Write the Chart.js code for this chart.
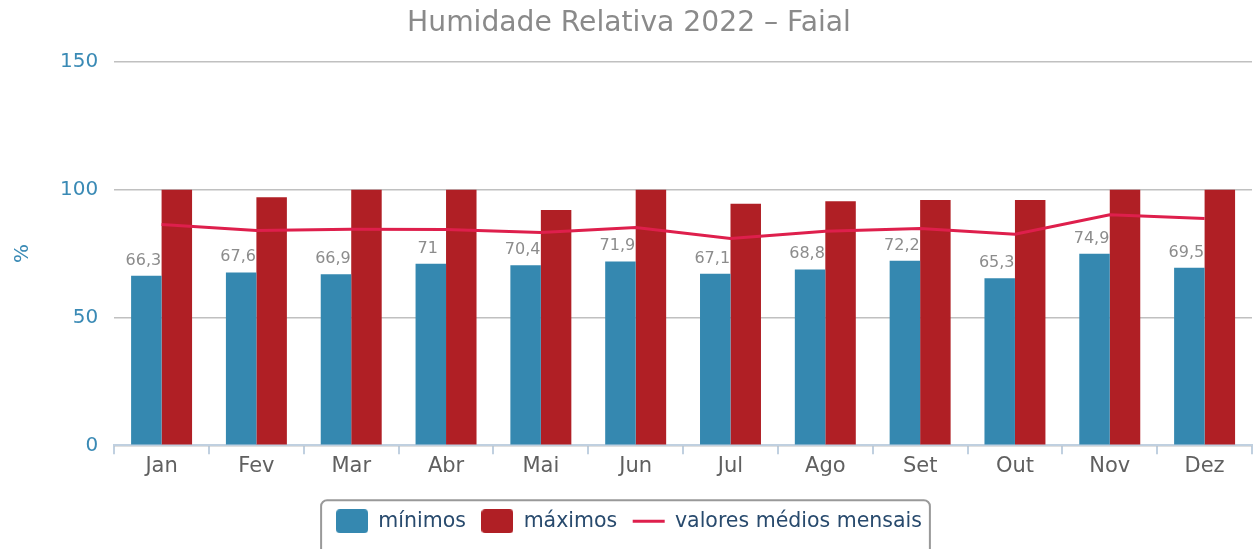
<!DOCTYPE html>
<html>
<head>
<meta charset="utf-8">
<script src="https://cdn.jsdelivr.net/npm/chart.js@4/dist/chart.umd.min.js"></script>
<style>
  html, body { margin: 0; padding: 0; background: #fff; }
  #wrap { width: 1257px; height: 549px; }
</style>
</head>
<body>
<div id="wrap"><canvas id="myChart"></canvas></div>
<script>

const meses = ['Jan', 'Fev', 'Mar', 'Abr', 'Mai', 'Jun', 'Jul', 'Ago', 'Set', 'Out', 'Nov', 'Dez'];

const minimos = [66.3, 67.6, 66.9, 71, 70.4, 71.9, 67.1, 68.8, 72.2, 65.3, 74.9, 69.5];
const maximos = [100, 97, 100, 100, 92, 100, 94.5, 95.5, 96, 96, 100, 100];
const medios = [86.4, 84.0, 84.5, 84.4, 83.2, 85.2, 80.9, 83.7, 84.8, 82.6, 90.2, 88.7];

const yTicks = [0, 50, 100, 150];

const fonte = '"DejaVu Sans", sans-serif';

// quadradinho arredondado para a legenda
function caixinha(cor) {
    const c = document.createElement('canvas');
    c.width = 32;
    c.height = 24;
    const g = c.getContext('2d');
    g.fillStyle = cor;
    g.beginPath();
    g.roundRect(0, 0, 32, 24, 4);
    g.fill();
    return c;
}

// rotulos de dados nos minimos
const rotulos = {
    id: 'rotulos',
    afterDatasetsDraw(chart) {
        const ctx = chart.ctx;
        const meta = chart.getDatasetMeta(0);
        ctx.save();
        ctx.font = '16px ' + fonte;
        ctx.fillStyle = '#8c8c8c';
        ctx.textAlign = 'center';
        ctx.textBaseline = 'alphabetic';
        meta.data.forEach((bar, i) => {
            const txt = String(minimos[i]).replace('.', ',');
            ctx.fillText(txt, bar.x - 3, bar.y - 11);
        });
        ctx.restore();
    }
};

// caixa em volta da legenda
const caixaLegenda = {
    id: 'caixaLegenda',
    afterDraw(chart) {
        const lg = chart.legend;
        if (!lg || !lg.legendHitBoxes.length) return;
        const boxes = lg.legendHitBoxes;
        let l = Infinity, r = -Infinity, t = Infinity, b = -Infinity;
        boxes.forEach(h => {
            l = Math.min(l, h.left);
            r = Math.max(r, h.left + h.width);
            t = Math.min(t, h.top);
            b = Math.max(b, h.top + h.height);
        });
        const meio = (t + b) / 2;
        const ctx = chart.ctx;
        const x = l - 15, y = meio - 21, w = (r + 8) - x, h = chart.height + 10 - y;
        ctx.save();
        ctx.strokeStyle = '#999999';
        ctx.lineWidth = 2;
        ctx.beginPath();
        ctx.roundRect(x, y, w, h, 6);
        ctx.stroke();
        ctx.restore();
    }
};

const data = {
    labels: meses,
    datasets: [
        {
            type: 'bar',
            label: 'mínimos',
            data: minimos,
            backgroundColor: '#3588b0',
            borderWidth: 0,
            order: 2,
            pointStyle: caixinha('#3588b0')
        },
        {
            type: 'bar',
            label: 'máximos',
            data: maximos,
            backgroundColor: '#b01f25',
            borderWidth: 0,
            order: 2,
            pointStyle: caixinha('#b01f25')
        },
        {
            type: 'line',
            label: 'valores médios mensais',
            data: medios,
            borderColor: '#de1f4c',
            backgroundColor: '#de1f4c',
            borderWidth: 3,
            pointRadius: 0,
            tension: 0,
            order: 0,
            pointStyle: 'line'
        }
    ]
};

const config = {
    type: 'bar',
    data: data,
    plugins: [rotulos, caixaLegenda],
    options: {
        responsive: true,
        maintainAspectRatio: false,
        animation: false,
        layout: { padding: { left: 6, right: 5, top: 0, bottom: 7.5 } },
        datasets: {
            bar: { categoryPercentage: 0.643, barPercentage: 1.0 }
        },
        plugins: {
            title: {
                display: true,
                text: 'Humidade Relativa 2022 – Faial',
                color: '#8a8a8a',
                font: { family: fonte, size: 28.2, weight: 'normal' },
                padding: { top: 7, bottom: 21 }
            },
            legend: {
                position: 'bottom',
                labels: {
                    usePointStyle: true,
                    pointStyleWidth: 32,
                    boxHeight: 20,
                    padding: 15.5,
                    color: '#284a6d',
                    font: { family: fonte, size: 20.5 },
                    sort: (a, b) => a.datasetIndex - b.datasetIndex
                }
            },
            tooltip: { enabled: false }
        },
        scales: {
            x: {
                afterFit: axis => { axis.height += 16; },
                grid: {
                    display: true,
                    drawOnChartArea: false,
                    drawTicks: true,
                    tickLength: 9,
                    color: '#c0d0e0',
                    lineWidth: 2
                },
                border: { color: '#c0d0e0', width: 2 },
                ticks: {
                    color: '#606060',
                    font: { family: fonte, size: 21 },
                    padding: 0
                }
            },
            y: {
                min: 0,
                max: 150,
                afterBuildTicks: axis => { axis.ticks = yTicks.map(v => ({ value: v })); },
                grid: { color: '#c0c0c0', lineWidth: 1.5, drawTicks: false },
                border: { display: false },
                ticks: {
                    color: '#3a8ab5',
                    font: { family: fonte, size: 20 },
                    padding: 16
                },
                title: {
                    display: true,
                    text: '%',
                    color: '#3a8ab5',
                    font: { family: fonte, size: 20 },
                    padding: { top: 5, bottom: 9 }
                }
            }
        }
    }
};

const myChart = new Chart(document.getElementById('myChart'), config);

</script>
</body>
</html>
